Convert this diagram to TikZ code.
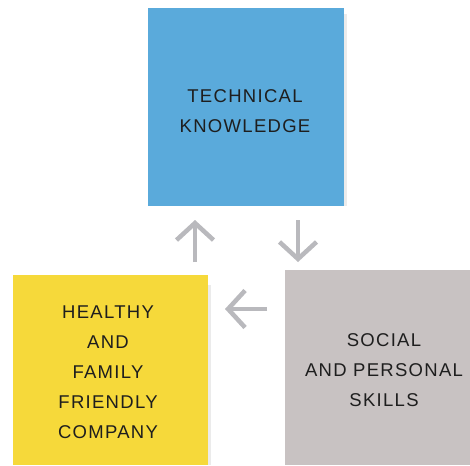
\documentclass[tikz,border=0pt]{standalone}
\usepackage{fontspec}
\setmainfont{Liberation Sans}
\usetikzlibrary{arrows.meta}
\definecolor{noteblue}{HTML}{5AAADB}
\definecolor{noteyellow}{HTML}{F6D93A}
\definecolor{notegray}{HTML}{C8C2C2}
\definecolor{arrowgray}{HTML}{B9B9BD}
\definecolor{inkc}{HTML}{1E1E1E}
\begin{document}
\begin{tikzpicture}[x=1pt,y=-1pt,
  note/.style={anchor=north west, inner sep=0pt, text=inkc, align=center,
    font=\fontsize{18.5}{30}\selectfont\addfontfeatures{LetterSpace=7}},
  flowarrow/.style={draw=arrowgray, line width=4.5pt,
    -{Straight Barb[length=17pt,width=37pt]}}]
\useasboundingbox (0,0) rectangle (470,465);
\fill[white] (0,0) rectangle (470,465);
% soft shadows
\fill[black!8] (344,14) rectangle (347,206);
\fill[black!8] (208,285) rectangle (211,465);
% notes
\node[note, fill=noteblue, minimum width=196pt, minimum height=198pt] (tech) at (148,8) {};
\node[note, fill=noteyellow, minimum width=195pt, minimum height=190pt] (health) at (13,275) {};
\node[note, fill=notegray, minimum width=185pt, minimum height=195pt] (social) at (285,270) {};
% texts
\node[note, anchor=center] (techtxt) at (245,111) {TECHNICAL\\KNOWLEDGE};
\node[note, anchor=center] (healthtxt) at (108,372) {HEALTHY\\AND\\FAMILY\\FRIENDLY\\COMPANY};
\node[note, anchor=center] (socialtxt) at (384,370) {SOCIAL\\AND PERSONAL\\SKILLS};
% arrow endpoints
\coordinate (upS) at (195,262);
\coordinate (upE) at (195,220);
\coordinate (dnS) at (298,220);
\coordinate (dnE) at (298,262);
\coordinate (lfS) at (267,309);
\coordinate (lfE) at (225,309);
\draw[flowarrow] (upS) -- (upE);
\draw[flowarrow] (dnS) -- (dnE);
\draw[flowarrow] (lfS) -- (lfE);
\end{tikzpicture}
\end{document}
